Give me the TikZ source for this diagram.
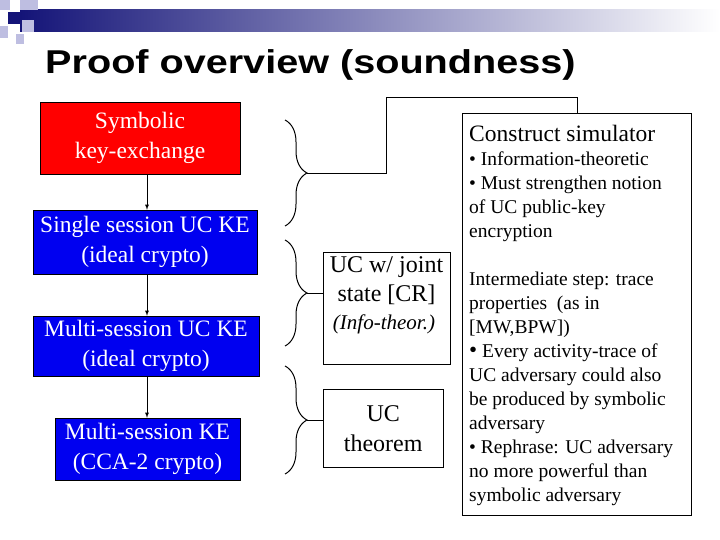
\documentclass[tikz,border=0pt]{standalone}
\usepackage{fontspec}
\setmainfont{Liberation Serif}
\newfontfamily\hdr{Liberation Sans}
\usetikzlibrary{decorations.pathreplacing}
\definecolor{navy}{RGB}{20,20,120}
\definecolor{lav}{RGB}{190,190,225}
\definecolor{kblue}{RGB}{0,0,240}
\begin{document}
\begin{tikzpicture}[x=1pt,y=-1pt,
  sbox/.style={draw=black,text=white,align=center,font=\fontsize{23.5}{29.5}\selectfont,inner sep=0pt},
  wbox/.style={draw=black,align=center,font=\fontsize{24}{29}\selectfont,inner sep=0pt},
  brc/.style={draw,decorate,decoration={brace,amplitude=22pt},line width=1pt},
  arr/.style={-latex,line width=0.8pt},
  ln/.style={line width=0.8pt}]
\useasboundingbox (0,0) rectangle (720,540);
\fill[white] (0,0) rectangle (720,540);
% header
\shade[left color=navy,right color=white] (20,10) rectangle (720,32);
\fill[lav] (0,0) rectangle (10,10);
\fill[lav] (20,0) rectangle (38,10);
\fill[navy] (8,12) rectangle (20,24);
\fill[lav] (22,20) rectangle (34,32);
\fill[lav] (0,26) rectangle (8,38);
\fill[lav] (16,34) rectangle (24,44);
\node[anchor=west,font=\hdr\bfseries\fontsize{33}{36}\selectfont,xscale=1.2,inner sep=0pt] (title) at (45,65) {Proof overview (soundness)};
% left boxes
\node[sbox,fill=red,minimum width=200pt,minimum height=72pt] (b1) at (140,138) {Symbolic\\key-exchange};
\node[sbox,fill=kblue,minimum width=224pt,minimum height=64pt] (b2) at (145,242) {Single session UC KE\\(ideal crypto)};
\node[sbox,fill=kblue,minimum width=226pt,minimum height=60pt] (b3) at (146,346) {Multi-session UC KE\\(ideal crypto)};
\node[sbox,fill=kblue,minimum width=185pt,minimum height=62pt] (b4) at (147.5,449) {Multi-session KE\\(CCA-2 crypto)};
\draw[arr] (b1.south -| 147,0) -- (b2.north -| 147,0);
\draw[arr] (b2.south -| 147,0) -- (b3.north -| 147,0);
\draw[arr] (b3.south -| 147,0) -- (b4.north -| 147,0);
% braces
\coordinate (t1) at (285,120); \coordinate (u1) at (285,226);
\coordinate (t2) at (285,240); \coordinate (u2) at (285,346);
\coordinate (t3) at (285,366); \coordinate (u3) at (285,474);
\draw[brc] (t1) -- (u1);
\draw[brc] (t2) -- (u2);
\draw[brc] (t3) -- (u3);
\coordinate (p1) at (307,173);
\coordinate (p2) at (307,293);
\coordinate (p3) at (307,420);
% middle boxes
\node[wbox,minimum width=127pt,minimum height=112pt,anchor=north west] (m1) at (323,252) {};
\node[align=center,font=\fontsize{24}{29}\selectfont,anchor=north,inner sep=0pt] (m1t) at (386.5,256) {UC w/ joint\\state [CR]};
\node[font=\itshape\fontsize{21}{24}\selectfont,anchor=north,inner sep=0pt] (m1i) at (384,315) {(Info-theor.)};
\node[wbox,minimum width=120pt,minimum height=78pt,anchor=north west,font=\fontsize{24}{30}\selectfont] (m2) at (323,389) {UC\\theorem};
\draw[ln] (p2) -- (m1.west |- p2);
\draw[ln] (p3) -- (m2.west |- p3);
% right box
\node[draw,minimum width=229pt,minimum height=402pt,anchor=north west,inner sep=0pt] (r) at (462,113) {};
\draw[ln] (p1) -- (386,173) -- (386,97) -- (577,97) -- (577,113);
\node[anchor=north west,align=left,inner sep=0pt,font=\fontsize{23.5}{26}\selectfont] (r0) at (469,125) {Construct simulator};
\node[anchor=north west,align=left,inner sep=0pt,font=\fontsize{19.5}{24}\selectfont] (r1) at (469,152) {%
\textbullet{} Information-theoretic\\
\textbullet{} Must strengthen notion\\
of UC public-key\\
encryption\\[24pt]
Intermediate step: trace\\
properties\ \ (as in\\
{[MW,BPW])}\\
{\fontsize{23}{24}\selectfont\textbullet}\ Every activity-trace of\\
UC adversary could also\\
be produced by symbolic\\
adversary\\
\textbullet{} Rephrase: UC adversary\\
no more powerful than\\
symbolic adversary};
\end{tikzpicture}
\end{document}
